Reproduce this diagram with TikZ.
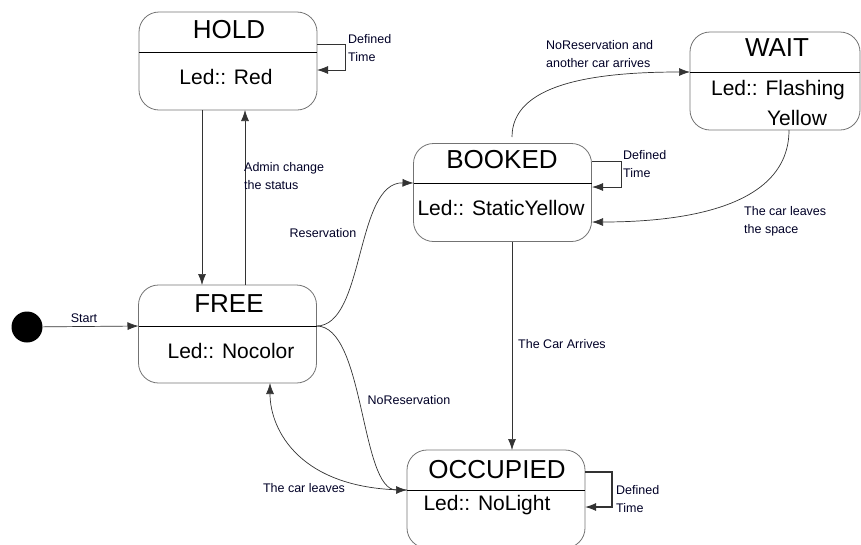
\documentclass[tikz,border=0pt]{standalone}
\usepackage{fontspec}
\setmainfont{Liberation Sans}
\usetikzlibrary{arrows.meta}
\tikzset{
  statebox/.style={draw=black!55, line width=0.8pt, rounded corners=20pt, minimum width=178pt, minimum height=98pt, inner sep=0pt},
  titletext/.style={font=\fontsize{26}{28}\selectfont, inner sep=0pt, anchor=center},
  bodytext/.style={font=\fontsize{21}{28}\selectfont, inner sep=0pt, anchor=center},
  lbl/.style={font=\fontsize{12.5}{18}\selectfont, inner sep=0pt, align=left, text=black!85!blue},
  divider/.style={draw=black, line width=0.7pt},
  conn/.style={draw=black!80, line width=0.7pt, -{Latex[length=11pt,width=8pt]}},
  loopconn/.style={draw=black!80, line width=0.8pt, -{Latex[length=11pt,width=8pt]}}
}
\begin{document}
\begin{tikzpicture}[x=1pt,y=-1pt]
\useasboundingbox (0,0) rectangle (861,544);

% HOLD
\node[statebox] (hold) at (228,61) {};
\coordinate (holdDL) at (139,52);
\coordinate (holdDR) at (317,52);
\draw[divider] (holdDL) -- (holdDR);
\node[titletext] (holdT) at (229,30) {HOLD};
\node[bodytext] (holdB) at (226,77) {Led:: Red};

% FREE
\node[statebox] (free) at (227.5,334) {};
\coordinate (freeDL) at (138.5,326);
\coordinate (freeDR) at (316.5,326);
\draw[divider] (freeDL) -- (freeDR);
\node[titletext] (freeT) at (229,304) {FREE};
\node[bodytext] (freeB) at (231,351) {Led:: Nocolor};

% BOOKED
\node[statebox] (booked) at (502.5,192.5) {};
\coordinate (bookedDL) at (413.5,183);
\coordinate (bookedDR) at (591.5,183);
\draw[divider] (bookedDL) -- (bookedDR);
\node[titletext] (bookedT) at (502,160) {BOOKED};
\node[bodytext] (bookedB) at (501,208) {Led:: StaticYellow};

% WAIT
\node[statebox, minimum width=170pt] (wait) at (775,81) {};
\coordinate (waitDL) at (690,72);
\coordinate (waitDR) at (860,72);
\draw[divider] (waitDL) -- (waitDR);
\node[titletext] (waitT) at (777,48) {WAIT};
\node[bodytext] (waitB1) at (778,90) {Led:: Flashing};
\node[bodytext] (waitB2) at (797,118) {Yellow};

% OCCUPIED
\node[statebox] (occ) at (496,499) {};
\coordinate (occDL) at (407,490);
\coordinate (occDR) at (585,490);
\draw[divider] (occDL) -- (occDR);
\node[titletext] (occT) at (497,470) {OCCUPIED};
\node[bodytext] (occB) at (487,505) {Led:: NoLight};

% initial
\node[circle, fill=black, minimum size=31pt, inner sep=0pt] (init) at (27,327) {};
\draw[conn] (init) -- (freeDL);
\node[lbl] (startL) at (84,318) {Start};

% HOLD <-> FREE
\coordinate (holdOut) at (202,110);
\coordinate (freeIn) at (202,285);
\draw[conn] (holdOut) -- (freeIn);
\coordinate (freeOut) at (245,285);
\coordinate (holdIn) at (245,110);
\draw[conn] (freeOut) -- (holdIn);
\node[lbl, anchor=west] (adminL) at (244,176) {Admin change\\the status};

% FREE -> BOOKED
\draw[conn] (freeDR) .. controls (365,326) and (355,182) .. (bookedDL);
\node[lbl] (resL) at (323,233) {Reservation};

% FREE -> OCCUPIED
\draw[conn] (freeDR) .. controls (365,326) and (360,490) .. (occDL);
\node[lbl] (noresL) at (409,400) {NoReservation};

% OCCUPIED -> FREE
\coordinate (freeBot) at (270,383);
\draw[conn] (occDL) .. controls (300,490) and (270,430) .. (freeBot);
\node[lbl] (leavesL) at (304,488) {The car leaves};

% BOOKED -> OCCUPIED
\coordinate (bookedBot) at (512,242);
\coordinate (occTop) at (512,450);
\draw[conn] (bookedBot) -- (occTop);
\node[lbl] (arrivesL) at (562,344) {The Car Arrives};

% BOOKED -> WAIT
\coordinate (bookedTop) at (512,137);
\draw[conn] (bookedTop) .. controls (512,85) and (590,72) .. (waitDL);
\node[lbl, anchor=west] (anotherL) at (546,54) {NoReservation and\\another car arrives};

% WAIT -> BOOKED
\coordinate (waitBot) at (789,130);
\coordinate (bookedR) at (592,222);
\draw[conn] (waitBot) .. controls (789,205) and (690,222) .. (bookedR);
\node[lbl, anchor=west] (spaceL) at (744,221) {The car leaves\\the space};

% self loops
\coordinate (holdLa) at (317,44);
\coordinate (holdLb) at (317,70);
\draw[loopconn] (holdLa) -- ++(28,0) |- (holdLb);
\node[lbl, anchor=west] (holdDef) at (348,48) {Defined\\Time};

\coordinate (bookedLa) at (592,161);
\coordinate (bookedLb) at (592,187);
\draw[loopconn] (bookedLa) -- ++(29,0) |- (bookedLb);
\node[lbl, anchor=west] (bookedDef) at (623,164) {Defined\\Time};

\coordinate (occLa) at (585,472);
\coordinate (occLb) at (585,507);
\draw[loopconn, line width=1.1pt] (occLa) -- ++(27,0) |- (occLb);
\node[lbl, anchor=west] (occDef) at (616,499) {Defined\\Time};
\end{tikzpicture}
\end{document}
